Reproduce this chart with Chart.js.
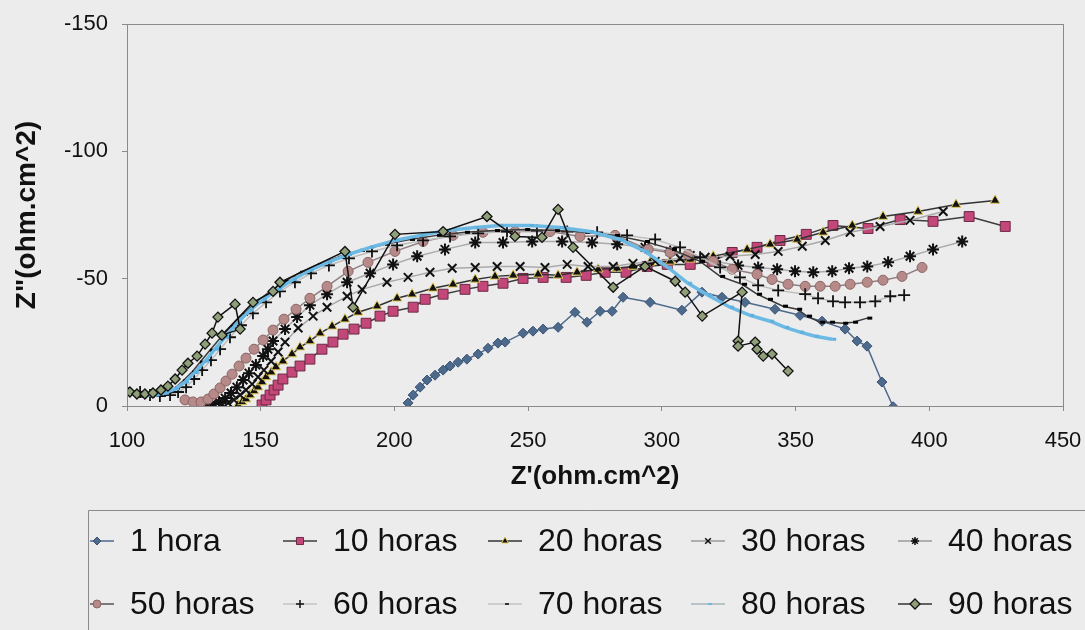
<!DOCTYPE html>
<html>
<head>
<meta charset="utf-8">
<script src="https://cdn.jsdelivr.net/npm/chart.js@4/dist/chart.umd.min.js"></script>
<style>
  html, body { margin: 0; padding: 0; background: #ececec; }
  canvas { display: block; }
</style>
</head>
<body>
<canvas id="nyquist" width="1085" height="630"></canvas>
<script>
// Nyquist plots: [Z' , Z''] pairs (ohm.cm^2) for each immersion time
const seriesLabels = ['1 hora', '10 horas', '20 horas', '30 horas', '40 horas',
                      '50 horas', '60 horas', '70 horas', '80 horas', '90 horas'];

const h1 = [[205.1,-1.2],[207.0,-4.3],[209.6,-7.4],[212.2,-10.2],[215.2,-12.1],[218.2,-14.1],[220.8,-15.7],
  [223.8,-17.2],[227.1,-18.4],[231.3,-20.4],[235.0,-22.7],[238.7,-24.7],[241.4,-25.1],[248.1,-28.6],
  [251.8,-29.4],[255.6,-30.2],[261.2,-30.9],[267.5,-36.8],[272.0,-32.9],[276.9,-37.2],[281.4,-37.2],
  [285.5,-42.7],[295.6,-40.7],[307.5,-37.6],[315.0,-44.7],[322.5,-42.7],[331.1,-40.7],[342.3,-38.0],
  [351.7,-35.6],[359.9,-33.3],[368.5,-30.2],[373.0,-25.5],[376.7,-23.5],[382.3,-9.4],[386.5,0.3]];

const h10 = [[150.5,-0.4],[152.0,-2.4],[153.5,-4.3],[155.0,-6.3],[156.5,-8.2],[158.3,-10.6],[161.7,-13.3],
  [164.7,-15.7],[168.4,-18.4],[172.9,-22.3],[177.0,-25.1],[180.8,-28.2],[184.9,-30.2],[189.4,-32.5],
  [194.6,-35.3],[199.5,-37.2],[207.0,-38.8],[211.5,-41.9],[218.2,-43.9],[226.4,-45.8],[233.1,-47.0],
  [240.6,-48.2],[248.1,-50.1],[255.6,-50.5],[264.2,-50.5],[271.7,-51.3],[278.8,-52.5],[286.6,-52.5],
  [294.5,-54.8],[302.0,-55.6],[310.6,-55.6],[318.8,-56.8],[326.3,-60.3],[335.6,-62.3],[344.2,-65.0],
  [354.0,-67.4],[364.0,-70.9],[377.1,-69.7],[389.1,-73.2],[401.4,-72.5],[414.9,-74.4],[428.4,-70.5]];

const h20 = [[141.5,-0.4],[143.0,-1.6],[144.5,-2.7],[146.0,-4.3],[147.5,-5.9],[149.0,-7.4],[150.5,-9.4],
  [152.0,-11.4],[153.9,-13.3],[155.7,-15.3],[158.3,-17.6],[161.7,-20.4],[164.7,-23.1],[168.4,-25.5],
  [172.2,-28.6],[176.7,-31.3],[181.5,-34.1],[186.4,-36.8],[193.5,-39.2],[201.0,-42.3],[206.6,-43.9],
  [214.4,-46.2],[221.9,-47.8],[230.2,-49.7],[237.6,-50.9],[244.4,-51.3],[253.7,-51.7],[261.2,-51.3],
  [268.3,-52.5],[276.2,-53.7],[283.3,-54.1],[289.2,-54.8],[295.6,-56.4],[303.1,-56.8],[310.6,-57.6],
  [319.2,-58.8],[331.9,-61.5],[340.5,-63.5],[350.6,-65.4],[360.3,-68.2],[371.2,-70.9],[382.7,-74.4],
  [395.8,-76.4],[410.0,-79.1],[424.6,-80.7]];

const h30 = [[135.5,-0.4],[137.8,-1.2],[140.0,-2.4],[142.3,-4.3],[144.5,-6.3],[146.8,-8.6],[149.0,-11.4],
  [151.2,-14.1],[153.9,-17.6],[156.5,-21.2],[159.1,-25.1],[164.0,-30.6],[169.6,-35.3],[174.8,-38.8],
  [182.3,-43.1],[187.9,-45.8],[197.2,-48.6],[205.1,-50.5],[213.3,-52.5],[221.6,-54.1],[230.2,-54.4],
  [238.4,-54.8],[247.0,-54.8],[256.3,-54.4],[264.6,-55.6],[272.4,-54.8],[281.8,-54.8],[289.2,-56.0],
  [297.5,-56.8],[306.8,-58.0],[316.2,-58.4],[325.5,-58.8],[334.9,-59.5],[343.5,-60.7],[352.5,-62.7],
  [361.1,-65.0],[370.4,-68.2],[381.6,-70.5],[392.8,-72.9],[405.2,-76.4]];

const h40 = [[129.2,-1.2],[131.8,-0.8],[134.4,-1.6],[136.7,-3.1],[138.9,-5.1],[141.1,-7.4],[143.4,-10.2],
  [145.6,-12.9],[148.2,-16.1],[150.9,-19.6],[152.7,-22.3],[154.6,-25.5],[159.1,-30.2],[163.6,-34.9],
  [168.4,-39.6],[174.8,-43.9],[182.3,-48.6],[190.9,-52.1],[199.5,-55.6],[208.5,-58.8],[218.9,-61.5],
  [230.2,-64.2],[240.6,-64.2],[251.5,-64.6],[262.7,-64.6],[273.9,-64.2],[283.3,-63.5],[293.7,-62.3],
  [303.1,-60.7],[310.6,-59.1],[319.9,-56.8],[328.5,-55.2],[336.0,-54.4],[343.1,-53.7],[349.8,-52.9],
  [356.6,-52.5],[363.7,-52.9],[370.0,-54.1],[376.8,-54.8],[384.6,-56.4],[392.8,-58.8],[401.4,-61.5],
  [412.3,-64.6]];

const h50 = [[121.7,-2.4],[124.7,-1.6],[127.7,-1.6],[130.3,-2.7],[132.5,-4.7],[134.8,-7.1],[137.0,-9.8],
  [139.3,-12.5],[141.9,-15.7],[144.5,-18.8],[147.5,-22.3],[150.9,-25.9],[154.6,-29.8],[158.7,-34.1],
  [163.2,-38.0],[168.4,-42.3],[174.8,-47.0],[182.7,-52.9],[190.1,-56.4],[200.2,-60.7],[210.7,-64.6],
  [221.9,-67.0],[233.1,-68.2],[245.1,-68.5],[258.2,-68.5],[269.4,-66.6],[282.5,-67.0],[294.9,-61.5],
  [303.1,-60.3],[309.8,-59.5],[319.2,-56.8],[326.3,-53.7],[335.6,-51.7],[341.2,-49.7],[347.2,-47.8],
  [353.6,-47.0],[359.2,-47.0],[364.8,-47.0],[370.4,-47.8],[376.8,-48.6],[382.7,-49.4],[389.8,-50.9],
  [397.3,-54.4]];

const h60 = [[104.9,-5.5],[108.6,-4.3],[112.3,-3.9],[116.1,-4.3],[119.1,-5.5],[122.1,-7.4],[125.1,-10.6],
  [128.1,-14.1],[131.4,-18.0],[134.8,-22.3],[138.5,-27.0],[142.6,-31.7],[147.1,-36.4],[152.0,-40.7],
  [157.2,-45.0],[162.8,-48.6],[168.8,-52.1],[175.5,-55.2],[183.0,-58.0],[191.6,-60.7],[201.0,-63.1],
  [210.7,-65.0],[220.8,-66.6],[231.3,-67.8],[242.1,-68.5],[253.3,-68.9],[264.6,-68.5],[275.8,-68.2],
  [287.0,-67.0],[297.5,-65.4],[306.8,-62.3],[314.3,-58.4],[321.8,-54.4],[329.2,-50.5],[336.0,-47.4],
  [343.5,-45.4],[353.6,-43.9],[358.4,-42.3],[364.0,-41.1],[368.5,-40.7],[374.1,-40.7],[379.8,-41.1],
  [385.4,-43.1],[390.6,-43.5]];

const h70 = [[100.0,-5.9],[102.2,-4.7],[105.2,-3.9],[108.6,-3.9],[111.6,-4.3],[115.0,-5.5],[118.0,-7.1],
  [120.9,-9.8],[124.3,-13.3],[127.3,-17.2],[131.0,-21.9],[134.8,-26.6],[138.9,-31.3],[143.4,-36.0],
  [148.2,-40.7],[153.5,-45.0],[159.1,-49.0],[164.7,-52.5],[171.4,-55.6],[178.9,-58.4],[187.1,-61.1],
  [196.5,-63.5],[205.8,-65.4],[215.9,-67.0],[226.4,-68.2],[237.6,-68.9],[248.9,-69.3],[260.1,-68.9],
  [271.3,-68.2],[282.5,-67.0],[293.7,-64.6],[303.8,-61.5],[314.3,-56.8],[321.8,-50.9],[330.0,-47.8],
  [335.6,-43.9],[339.7,-41.9],[345.3,-39.2],[350.6,-38.0],[354.3,-35.3],[359.2,-32.9],[362.9,-32.9],
  [367.8,-32.5],[371.5,-32.9],[376.8,-34.5]];

const h80 = [[100.0,-6.3],[103.0,-5.1],[106.7,-4.3],[110.5,-4.3],[114.2,-5.1],[118.0,-6.7],[121.7,-9.4],
  [125.4,-13.3],[129.2,-17.6],[132.9,-22.3],[136.7,-27.0],[141.1,-32.5],[146.0,-37.6],[150.9,-41.9],
  [156.5,-45.8],[162.1,-49.7],[168.4,-53.3],[175.2,-56.4],[182.7,-59.5],[190.9,-62.3],[200.2,-65.0],
  [209.6,-67.0],[219.7,-68.9],[230.2,-70.1],[239.5,-70.9],[250.7,-70.9],[261.9,-70.1],[273.2,-68.5],
  [284.4,-65.4],[293.7,-60.7],[302.3,-54.4],[309.8,-48.2],[317.3,-43.5],[325.5,-38.8],[333.0,-35.6],
  [340.5,-33.3],[346.1,-30.9],[351.7,-29.0],[357.3,-27.4],[363.7,-26.2]];

const h90 = [[99.3,-6.3],[101.1,-5.5],[103.7,-4.7],[106.7,-4.7],[109.7,-5.1],[112.7,-6.3],[115.3,-7.8],
  [118.0,-10.6],[120.6,-14.1],[122.8,-16.8],[126.2,-19.6],[129.2,-24.3],[131.8,-28.6],[134.0,-34.9],
  [140.4,-40.0],[142.3,-30.2],[135.5,-27.8],[147.1,-40.7],[154.6,-45.0],[157.2,-48.6],[181.5,-60.7],
  [184.5,-38.8],[200.2,-67.4],[218.2,-68.5],[234.6,-74.4],[245.1,-66.6],[255.2,-66.2],[261.2,-77.2],
  [266.8,-62.3],[281.8,-46.6],[293.7,-54.8],[305.0,-49.0],[308.7,-44.7],[315.1,-35.3],[330.0,-44.7],
  [328.5,-25.5],[328.5,-23.5],[334.9,-25.1],[335.6,-22.3],[337.9,-19.6],[341.2,-20.4],[347.2,-13.7]];

const seriesData = [h1, h10, h20, h30, h40, h50, h60, h70, h80, h90];

// Marker and line style of each series (lr / lline: legend marker radius / legend line colour)
const seriesStyles = [
  { line: '#4d6a8c', width: 1.5, point: 'rectRot',  r: 5,   fill: '#4d6a8c', edge: '#3a5474', edgeW: 1,   lr: 4, lline: '#4d6a8c' },
  { line: '#3c3c3c', width: 1.5, point: 'rect',     r: 7,   fill: '#c4477a', edge: '#6b2a44', edgeW: 1,   lr: 5, lline: '#3c3c3c' },
  { line: '#333333', width: 1.5, point: 'triangle', r: 5.5, fill: '#111111', edge: '#e2c95a', edgeW: 1,   lr: 4, lline: '#333333' },
  { line: '#aaaaaa', width: 1.5, point: 'crossRot', r: 6,   fill: '#111111', edge: '#111111', edgeW: 2,   lr: 4, lline: '#9a9a9a' },
  { line: '#aaaaaa', width: 1.5, point: 'star',     r: 6,   fill: '#111111', edge: '#111111', edgeW: 2,   lr: 4, lline: '#9a9a9a' },
  { line: '#8f7f82', width: 1.5, point: 'circle',   r: 5,   fill: '#b78a8a', edge: '#8c6464', edgeW: 1,   lr: 4, lline: '#555555' },
  { line: '#bdbdbd', width: 1.5, point: 'cross',    r: 6,   fill: '#111111', edge: '#111111', edgeW: 1.8, lr: 4, lline: '#c4c4c4' },
  { line: '#3a3a3a', width: 1.5, point: 'dash',     r: 5,   fill: '#000000', edge: '#000000', edgeW: 3,   lr: 4, lline: '#c4c4c4' },
  { line: '#6cb9e3', width: 3.5, point: 'dash',     r: 4,   fill: '#5db0df', edge: '#5db0df', edgeW: 3,   lr: 4, lline: '#a9b4bb' },
  { line: '#111111', width: 1.5, point: 'rectRot',  r: 5,   fill: '#8f9f78', edge: '#111111', edgeW: 1.3, lr: 5, lline: '#333333' }
];

const FONT = "'Liberation Sans', Arial, sans-serif";

const datasets = seriesData.map((pts, i) => {
  const s = seriesStyles[i];
  return {
    label: seriesLabels[i],
    data: pts.map(p => ({ x: p[0], y: p[1] })),
    showLine: true,
    borderColor: s.line,
    borderWidth: s.width,
    pointStyle: s.point,
    pointRadius: s.r,
    pointBackgroundColor: s.fill,
    pointBorderColor: s.edge,
    pointBorderWidth: s.edgeW,
    tension: 0,
    order: seriesData.length - i
  };
});

// Grey frame around the plot area
const plotFrame = {
  id: 'plotFrame',
  afterDatasetsDraw(chart) {
    const { ctx, chartArea: a } = chart;
    ctx.save();
    ctx.strokeStyle = '#8a8a8a';
    ctx.lineWidth = 1;
    ctx.strokeRect(Math.round(a.left) + 0.5, Math.round(a.top) + 0.5,
                   Math.round(a.right - a.left), Math.round(a.bottom - a.top));
    ctx.restore();
  }
};

// Two-row legend laid out in fixed columns inside an open box
const legendCols = [97, 300, 505, 708, 915];
const legendRows = [541, 604];
const gridLegend = {
  id: 'gridLegend',
  afterDraw(chart) {
    const ctx = chart.ctx;
    ctx.save();
    ctx.strokeStyle = '#8a8a8a';
    ctx.lineWidth = 1;
    ctx.beginPath();
    ctx.moveTo(chart.width, 510.5);
    ctx.lineTo(88.5, 510.5);
    ctx.lineTo(88.5, chart.height);
    ctx.stroke();

    chart.data.datasets.forEach((ds, i) => {
      const s = seriesStyles[i];
      const cx = legendCols[i % 5];
      const cy = legendRows[Math.floor(i / 5)];
      ctx.strokeStyle = s.lline;
      ctx.lineWidth = 1.5;
      ctx.beginPath();
      ctx.moveTo(Math.max(cx - 17, 90), cy);
      ctx.lineTo(cx + 17, cy);
      ctx.stroke();
      ctx.fillStyle = s.fill;
      ctx.strokeStyle = s.edge;
      ctx.lineWidth = Math.min(s.edgeW, 1.5);
      Chart.helpers.drawPoint(ctx, { pointStyle: s.point, radius: s.lr, rotation: 0, borderWidth: ctx.lineWidth }, cx, cy);
      ctx.fillStyle = '#111';
      ctx.font = '32px ' + FONT;
      ctx.textAlign = 'left';
      ctx.textBaseline = 'middle';
      ctx.fillText(ds.label, cx + 33, cy + 1);
    });
    ctx.restore();
  }
};

new Chart(document.getElementById('nyquist'), {
  type: 'scatter',
  data: { datasets },
  options: {
    responsive: false,
    animation: false,
    layout: { padding: { left: 0, right: 22, top: 24, bottom: 138 } },
    plugins: { legend: { display: false }, tooltip: { enabled: false } },
    scales: {
      x: {
        type: 'linear', min: 100, max: 450,
        ticks: { stepSize: 50, color: '#111', font: { family: FONT, size: 22 }, padding: 17, maxRotation: 0 },
        grid: { drawOnChartArea: false, drawTicks: true, tickLength: 5, color: '#8a8a8a' },
        border: { color: '#8a8a8a' },
        title: { display: true, text: "Z'(ohm.cm^2)", color: '#111',
                 font: { family: FONT, size: 26, weight: 'bold' }, padding: { top: 0, bottom: 0 } },
        afterFit(scale) { scale.height = 86; scale.paddingLeft = 0; scale.paddingRight = 0; }
      },
      y: {
        type: 'linear', min: -150, max: 0, reverse: true,
        ticks: { stepSize: 50, color: '#111', font: { family: FONT, size: 22 }, padding: 14 },
        grid: { drawOnChartArea: false, drawTicks: true, tickLength: 5, color: '#8a8a8a' },
        border: { color: '#8a8a8a' },
        title: { display: true, text: 'Z"(ohm.cm^2)', color: '#111',
                 font: { family: FONT, size: 28, weight: 'bold' }, padding: { top: 10, bottom: 0 } },
        afterFit(scale) { scale.width = 127; scale.paddingTop = 0; scale.paddingBottom = 0; }
      }
    }
  },
  plugins: [plotFrame, gridLegend]
});
</script>
</body>
</html>
